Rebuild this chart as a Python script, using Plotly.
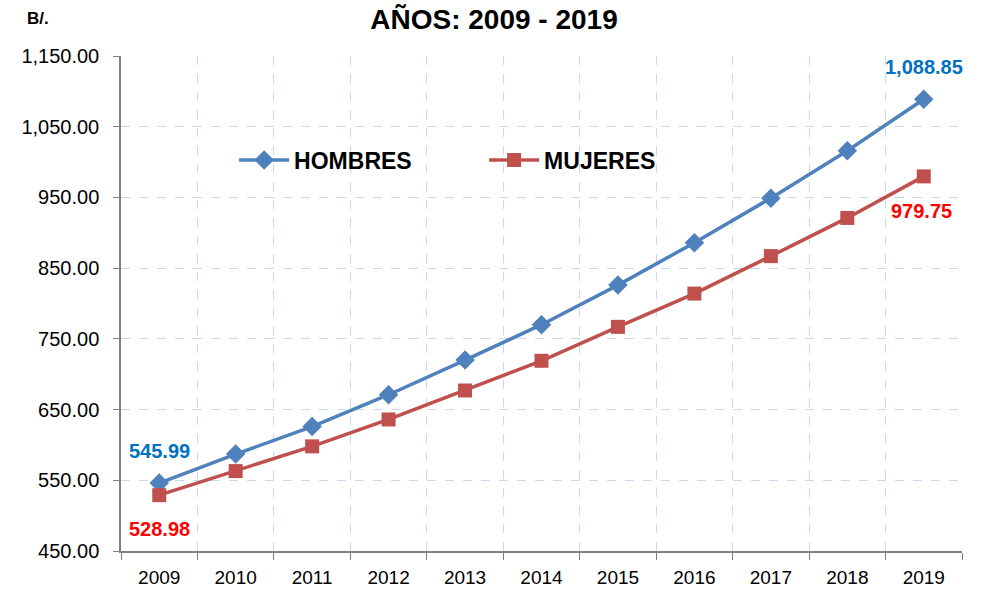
import plotly.graph_objects as go

years = ["2009", "2010", "2011", "2012", "2013", "2014", "2015", "2016", "2017", "2018", "2019"]
hombres = [545.99, 587, 626, 671, 720, 770, 826, 886, 949, 1016, 1088.85]
mujeres = [528.98, 563, 598, 636, 677, 719, 767, 814, 867, 921, 979.75]
y_ticks = [450, 550, 650, 750, 850, 950, 1050, 1150]

FONT = "Liberation Sans"
BLUE = "#4F81BD"
RED = "#C0504D"
GRID = "#C6D9F1"

fig = go.Figure()
fig.add_trace(go.Scatter(
    x=years, y=hombres, name="HOMBRES", mode="lines+markers",
    line=dict(color=BLUE, width=3.5),
    marker=dict(symbol="diamond", size=15, color=BLUE),
))
fig.add_trace(go.Scatter(
    x=years, y=mujeres, name="MUJERES", mode="lines+markers",
    line=dict(color=RED, width=3.5),
    marker=dict(symbol="square", size=14, color=RED),
))

def lab(idx, y, color, dy, dx=0):
    fig.add_annotation(x=idx, y=y, xref="x", yref="y", text=f"{y:,.2f}", yshift=dy, xshift=dx,
                       showarrow=False,
                       font=dict(family=FONT, size=20, color=color, weight="bold"))

last = len(years) - 1
lab(0, hombres[0], "#0070C0", 32)
lab(0, mujeres[0], "#FF0000", -34)
lab(last, hombres[last], "#0070C0", 32)
lab(last, mujeres[last], "#FF0000", -35, -2)

fig.add_annotation(x=-83 / 841, y=1 + 37 / 495, xref="paper", yref="paper", text="B/.",
                   showarrow=False, xanchor="center", yanchor="middle",
                   font=dict(family=FONT, size=17, color="#000000", weight="bold"))

fig.update_layout(
    width=988, height=592,
    margin=dict(l=121, r=26, t=56, b=41, autoexpand=False),
    paper_bgcolor="white", plot_bgcolor="white",
    title=dict(text="AÑOS: 2009 - 2019", x=0.5, xref="container", xanchor="center",
               y=1 - 19 / 592, yref="container", yanchor="middle",
               font=dict(family=FONT, size=28, color="#000000", weight="bold")),
    font=dict(family=FONT, color="#000000"),
    legend=dict(orientation="h", x=0.1345, y=0.79, xanchor="left", yanchor="middle",
                bgcolor="rgba(0,0,0,0)", entrywidth=185, entrywidthmode="pixels",
                font=dict(family=FONT, size=23, color="#000000", weight="bold"),
                itemwidth=50),
    showlegend=True,
)

fig.update_xaxes(
    type="category", tickson="boundaries", ticks="outside", ticklen=7, tickcolor="#808080",
    showline=True, linecolor="#808080", linewidth=1.5,
    showgrid=True, gridcolor=GRID, griddash="dash", gridwidth=1,
    tickfont=dict(family=FONT, size=19, color="#000000"), ticklabelstandoff=8,
    range=[-0.5, 10.5], automargin=False,
)
fig.update_yaxes(
    range=[450, 1150], tickvals=y_ticks, tickformat=",.2f",
    ticks="outside", ticklen=6, tickcolor="#808080",
    showline=True, linecolor="#808080", linewidth=1.5,
    showgrid=True, gridcolor=GRID, griddash="dash", gridwidth=1,
    tickfont=dict(family=FONT, size=20, color="#000000"), ticklabelstandoff=10,
    zeroline=False, automargin=False,
)

fig.write_html("out.html", config={"displayModeBar": False},
               post_script="document.body.style.margin='0';")
